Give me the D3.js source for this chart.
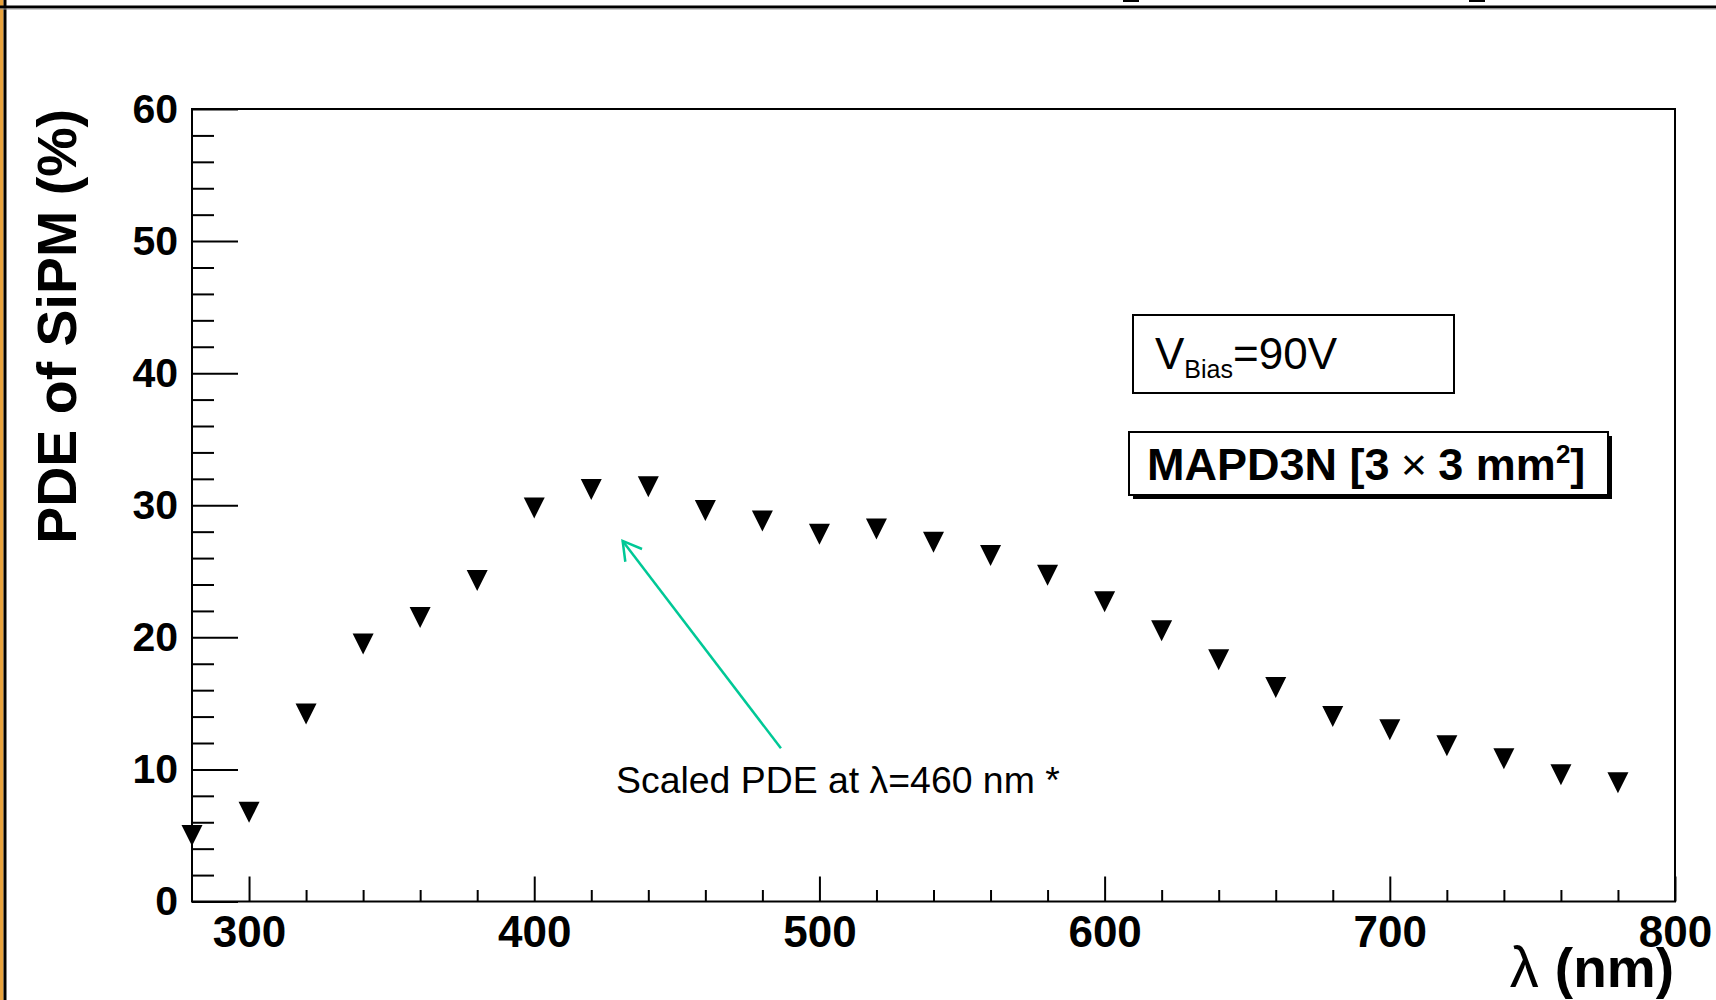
<!DOCTYPE html>
<html><head><meta charset="utf-8">
<script src="https://cdn.jsdelivr.net/npm/d3@7"></script>
<style>
html,body{margin:0;padding:0;background:#fff;overflow:hidden;}
svg{display:block;}
</style></head><body>
<svg id="chart" width="1716" height="1000"></svg>
<script>
// ---- data ----
const wavelengths = [280,300,320,340,360,380,400,420,440,460,480,500,520,540,560,580,600,620,640,660,680,700,720,740,760,780];
const pdeValues   = [5.0,6.75,14.2,19.5,21.5,24.3,29.8,31.2,31.4,29.6,28.8,27.8,28.2,27.2,26.2,24.7,22.7,20.5,18.3,16.2,14.0,13.0,11.8,10.8,9.6,9.0];
const xMajorTicks = [300,400,500,600,700,800];
const yMajorTicks = [0,10,20,30,40,50,60];
const xDomain = [280,800];
const yDomain = [0,60];
const xTitle = "(nm)";
const yTitle = "PDE of SiPM (%)";
const annotationText = "Scaled PDE at λ=460 nm *";
const arrowTip = [431, 27.3];   // data coords
const arrowTail = [486.5, 11.6];

(function(){
const svg = d3.select("#chart");
const W = 1716, H = 1000;
const mLeft = 192, mRight = 1675, mTop = 109, mBottom = 901.5;
const FONT = "'Liberation Sans', Arial, sans-serif";

const x = d3.scaleLinear().domain(xDomain).range([mLeft, mRight]);
const y = d3.scaleLinear().domain(yDomain).range([mBottom, mTop]);

// background decoration (slide border)
svg.append("rect").attr("x",0).attr("y",0).attr("width",W).attr("height",H).attr("fill","#fff");
svg.append("rect").attr("x",0).attr("y",0).attr("width",3.5).attr("height",H).attr("fill","#e8a23c");
svg.append("rect").attr("x",3.5).attr("y",0).attr("width",3).attr("height",H).attr("fill","#000");
svg.append("rect").attr("x",0).attr("y",5.5).attr("width",W).attr("height",3).attr("fill","#000");
svg.append("rect").attr("x",0).attr("y",8.5).attr("width",W).attr("height",1).attr("fill","#999");
svg.append("rect").attr("x",1123).attr("y",0).attr("width",16).attr("height",2).attr("fill","#000");
svg.append("rect").attr("x",1469).attr("y",0).attr("width",16).attr("height",2).attr("fill","#000");

// minor ticks
const xMinor = d3.range(xDomain[0], xDomain[1], 20).filter(v => !xMajorTicks.includes(v) && v > xDomain[0]);
const yMinor = d3.range(yDomain[0], yDomain[1], 2).filter(v => !yMajorTicks.includes(v));

const gx = svg.append("g").attr("transform", `translate(0,${mBottom})`);
gx.call(d3.axisBottom(x).tickValues(xMinor).tickSize(-11.5).tickFormat(""));
gx.select(".domain").remove();
const gx2 = svg.append("g").attr("transform", `translate(0,${mBottom})`);
gx2.call(d3.axisBottom(x).tickValues(xMajorTicks).tickSize(-25).tickPadding(14).tickFormat(d3.format("d")));
gx2.select(".domain").remove();

const gy = svg.append("g").attr("transform", `translate(${mLeft},0)`);
gy.call(d3.axisLeft(y).tickValues(yMinor).tickSize(-22).tickFormat(""));
gy.select(".domain").remove();
const gy2 = svg.append("g").attr("transform", `translate(${mLeft},0)`);
gy2.call(d3.axisLeft(y).tickValues(yMajorTicks).tickSize(-46).tickPadding(14).tickFormat(d3.format("d")));
gy2.select(".domain").remove();

svg.selectAll(".tick line").attr("stroke","#000").attr("stroke-width",2);
gx2.selectAll("text").attr("font-family",FONT).attr("font-weight","bold").attr("font-size",44).attr("fill","#000");
gy2.selectAll("text").attr("font-family",FONT).attr("font-weight","bold").attr("font-size",41).attr("fill","#000");

// frame
svg.append("rect").attr("x",mLeft).attr("y",mTop).attr("width",mRight-mLeft).attr("height",mBottom-mTop)
  .attr("fill","none").attr("stroke","#000").attr("stroke-width",2);

// markers (full triangle down)
const tri = "M-10.5,-10.5L10.5,-10.5L0,10.5Z";
svg.append("g").selectAll("path").data(wavelengths.map((w,i)=>[w,pdeValues[i]])).join("path")
  .attr("d", tri)
  .attr("transform", d => `translate(${x(d[0])},${y(d[1])})`)
  .attr("fill","#000");

// axis titles
svg.append("text")
  .attr("x", mRight-1).attr("y", 987)
  .attr("text-anchor","end")
  .attr("font-family",FONT).attr("font-size",55).attr("fill","#000")
  .call(t => {
    t.append("tspan").attr("font-weight","normal").attr("font-size",58).text("λ ");
    t.append("tspan").attr("font-weight","bold").text(xTitle);
  });

svg.append("text")
  .attr("transform", `translate(76,${mTop}) rotate(-90)`)
  .attr("text-anchor","end")
  .attr("font-family",FONT).attr("font-weight","bold").attr("font-size",55.5).attr("fill","#000")
  .text(yTitle);

// VBias box
svg.append("rect").attr("x",1133).attr("y",315).attr("width",321).attr("height",78)
  .attr("fill","#fff").attr("stroke","#000").attr("stroke-width",2);
svg.append("text").attr("x",1155).attr("y",369)
  .attr("font-family",FONT).attr("font-size",44).attr("fill","#000")
  .call(t => {
    t.append("tspan").text("V");
    t.append("tspan").attr("font-size",25).attr("dy",9).text("Bias");
    t.append("tspan").attr("dy",-9).text("=90V");
  });

// MAPD box with shadow
svg.append("rect").attr("x",1133).attr("y",436).attr("width",479).attr("height",63).attr("fill","#000");
svg.append("rect").attr("x",1129).attr("y",432).attr("width",479).attr("height",63)
  .attr("fill","#fff").attr("stroke","#000").attr("stroke-width",2);
svg.append("text").attr("x",1147).attr("y",480)
  .attr("font-family",FONT).attr("font-weight","bold").attr("font-size",45).attr("fill","#000")
  .call(t => {
    t.append("tspan").text("MAPD3N [3");
    t.append("tspan").attr("font-weight","normal").text("\u2005×\u2005");
    t.append("tspan").text("3 mm");
    t.append("tspan").attr("font-size",26).attr("dy",-17).text("2");
    t.append("tspan").attr("dy",17).text("]");
  });

// annotation arrow
const tip = [x(arrowTip[0]), y(arrowTip[1])];
const tail = [x(arrowTail[0]), y(arrowTail[1])];
const ang = Math.atan2(tail[1]-tip[1], tail[0]-tip[0]);
const hl = 21, ha = 30*Math.PI/180;
const green = "#00c896";
svg.append("line").attr("x1",tail[0]).attr("y1",tail[1]).attr("x2",tip[0]).attr("y2",tip[1])
  .attr("stroke",green).attr("stroke-width",2.5);
svg.append("path")
  .attr("d", `M${tip[0]+hl*Math.cos(ang-ha)},${tip[1]+hl*Math.sin(ang-ha)}L${tip[0]},${tip[1]}L${tip[0]+hl*Math.cos(ang+ha)},${tip[1]+hl*Math.sin(ang+ha)}`)
  .attr("fill","none").attr("stroke",green).attr("stroke-width",2.5);

svg.append("text").attr("x",616).attr("y",793)
  .attr("font-family",FONT).attr("font-size",37.4).attr("fill","#000")
  .text(annotationText);
})();
</script>
</body></html>
